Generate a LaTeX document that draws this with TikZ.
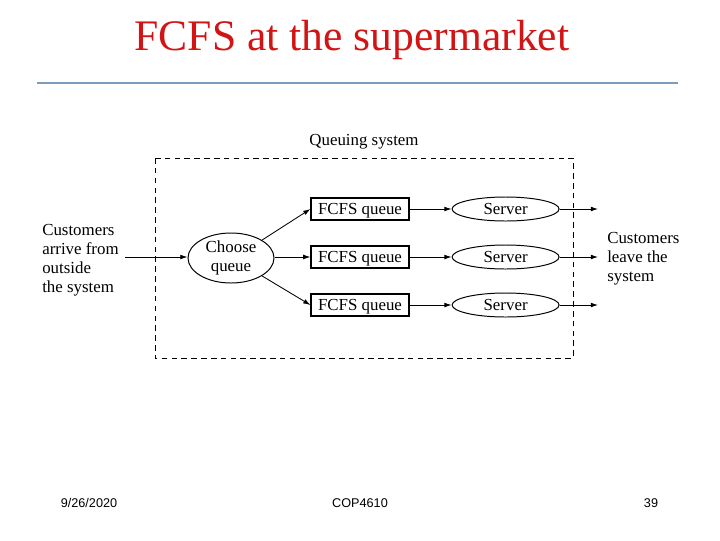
\documentclass[tikz,border=0pt]{standalone}
\usepackage{fontspec}
\setmainfont{Liberation Serif}
\setsansfont{Liberation Sans}
\usetikzlibrary{arrows.meta, positioning, shapes.geometric}
\definecolor{cTitle}{RGB}{210,20,20}
\definecolor{cRule}{RGB}{125,155,190}

\begin{document}
\begin{tikzpicture}[x=0.025cm, y=-0.025cm,
    qbox/.style={draw, line width=0.8pt, minimum width=2.45cm, minimum height=0.55cm, inner sep=0pt, text depth=0pt, font=\fontsize{12}{14}\selectfont},
    srv/.style={draw, ellipse, line width=0.7pt, minimum width=2.675cm, minimum height=0.6cm, inner sep=0pt, text depth=0pt, font=\fontsize{12}{14}\selectfont},
    lbl/.style={align=left, inner sep=0pt, font=\fontsize{12}{13.5}\selectfont},
    flow/.style={-{Latex[length=1.8mm, width=1.2mm]}, line width=0.6pt}]
  \useasboundingbox (0,0) rectangle (720,540);
  % title and rule
  \node[text=cTitle, font=\fontsize{31}{36}\selectfont] (title) at (352,40) {FCFS at the supermarket};
  \draw[cRule, line width=1.6pt] (37,83) -- (678,83);
  % system frame
  \draw[dashed, dash pattern=on 4pt off 3pt, line width=0.6pt] (155,158) rectangle (573,358);
  \node[font=\fontsize{12}{14}\selectfont] (qsys) at (364,142) {Queuing system};
  % choose + queues + servers
  \node[draw, ellipse, line width=0.7pt, minimum width=2.15cm, minimum height=1.25cm, inner sep=0pt,
    align=center, font=\fontsize{12}{13}\selectfont] (choose) at (231,258) {Choose\\queue};
  \node[qbox] (q1) at (360,209) {FCFS queue};
  \node[qbox] (q2) at (360,257) {FCFS queue};
  \node[qbox] (q3) at (360,305) {FCFS queue};
  \node[srv, right=1.05cm of q1] (s1) {Server};
  \node[srv, right=1.05cm of q2] (s2) {Server};
  \node[srv, right=1.05cm of q3] (s3) {Server};
  \coordinate (o1) at (598,209);
  \coordinate (o2) at (598,257);
  \coordinate (o3) at (598,305);
  % outside texts
  \node[lbl, anchor=west] (arrive) at (42,260) {Customers\\arrive from\\outside\\the system};
  \node[lbl, anchor=west] (leave) at (607,259) {Customers\\leave the\\system};
  \coordinate (in) at (125,257);
  % arrows
  \draw[flow] (in) -- (in -| choose.west);
  \draw[flow] (choose.30) -- (q1.west);
  \draw[flow] (choose.east |- q2) -- (q2);
  \draw[flow] (choose.-30) -- (q3.west);
  \foreach \i in {1,2,3} {
    \draw[flow] (q\i) -- (s\i);
    \draw[flow] (s\i) -- (o\i);
  }
  % footer
  \node[font=\sffamily\fontsize{9}{10}\selectfont] (date) at (89,503) {9/26/2020};
  \node[font=\sffamily\fontsize{9}{10}\selectfont] (course) at (360,503) {COP4610};
  \node[font=\sffamily\fontsize{9}{10}\selectfont] (page) at (651,503) {39};
\end{tikzpicture}
\end{document}
